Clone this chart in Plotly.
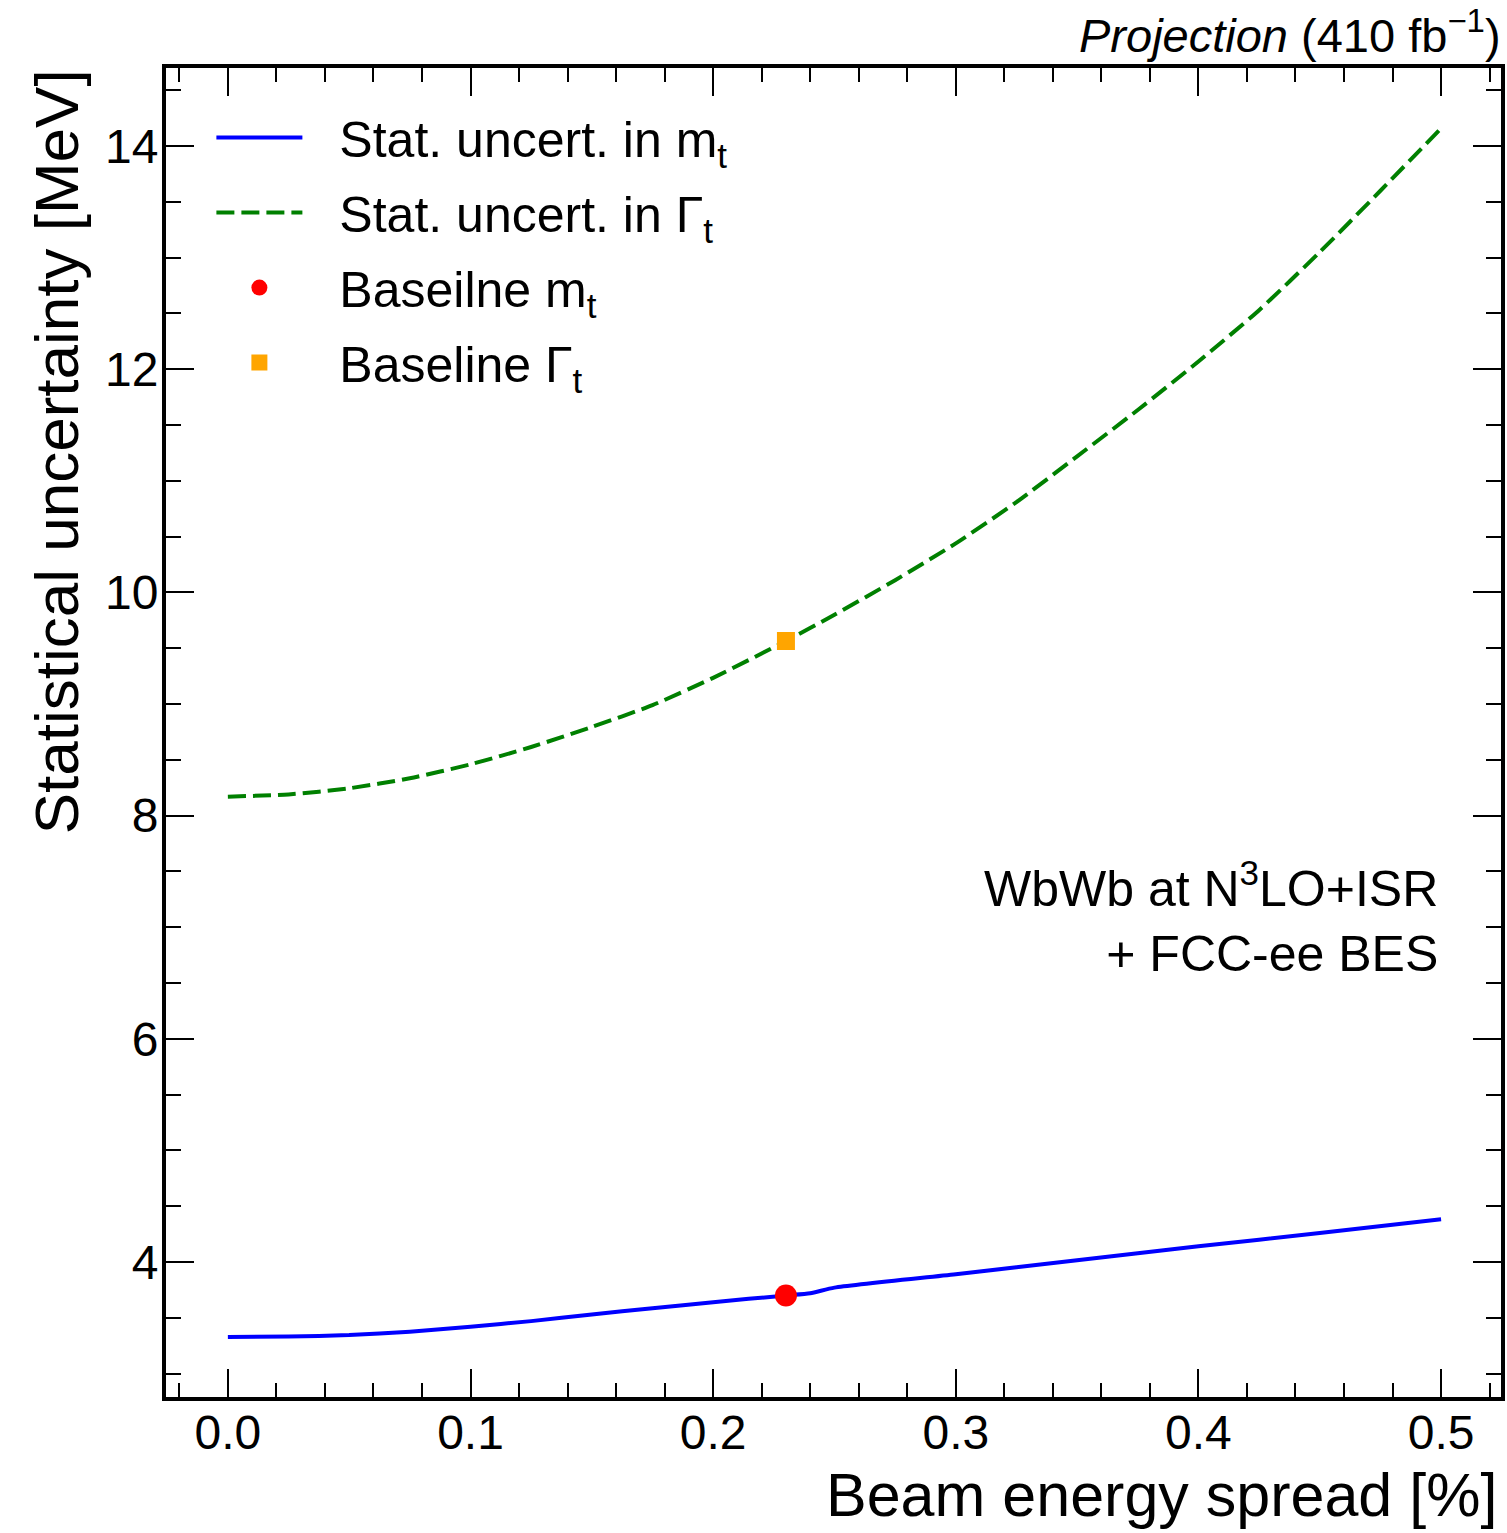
import plotly.graph_objects as go

# ---- data ----
mass_x = [0.0, 0.025, 0.05, 0.075, 0.10, 0.125, 0.15, 0.175, 0.20, 0.23, 0.24, 0.25,
          0.30, 0.35, 0.40, 0.45, 0.50]
mass_y = [3.328, 3.332, 3.345, 3.375, 3.42, 3.47, 3.53, 3.585, 3.64, 3.70, 3.72, 3.77,
          3.89, 4.015, 4.14, 4.26, 4.383]

width_x = [0.0, 0.025, 0.05, 0.075, 0.10, 0.125, 0.15, 0.175, 0.20, 0.23, 0.25, 0.275,
           0.30, 0.325, 0.35, 0.375, 0.40, 0.425, 0.45, 0.475, 0.50]
width_y = [8.17, 8.19, 8.245, 8.335, 8.46, 8.615, 8.795, 8.99, 9.235, 9.565, 9.80, 10.11,
           10.44, 10.81, 11.22, 11.635, 12.07, 12.53, 13.05, 13.60, 14.16]

baseline_x = [0.23]
baseline_mass = [3.70]
baseline_width = [9.565]

FONT = "Liberation Sans, Arial, Helvetica, sans-serif"
PAD = "\u00a0\u00a0\u200a"

fig = go.Figure()
fig.add_trace(go.Scatter(x=mass_x, y=mass_y, mode="lines",
                         line=dict(color="blue", width=4, shape="spline", smoothing=0.6),
                         legendgroup="a",
                         name=PAD + "Stat. uncert. in m<sub>t</sub>"))
fig.add_trace(go.Scatter(x=width_x, y=width_y, mode="lines",
                         line=dict(color="green", width=4, dash="18px,7px",
                                   shape="spline", smoothing=0.6),
                         legendgroup="b",
                         name=PAD + "Stat. uncert. in Γ<sub>t</sub>"))
fig.add_trace(go.Scatter(x=baseline_x, y=baseline_mass, mode="markers",
                         marker=dict(color="red", size=22, symbol="circle"),
                         legendgroup="c",
                         name=PAD + "Baseilne m<sub>t</sub>"))
fig.add_trace(go.Scatter(x=baseline_x, y=baseline_width, mode="markers",
                         marker=dict(color="orange", size=18, symbol="square"),
                         legendgroup="d",
                         name=PAD + "Baseline Γ<sub>t</sub>"))

axis_common = dict(showline=True, linecolor="black", linewidth=4, mirror="ticks",
                   ticks="inside", tickcolor="black", tickwidth=2, ticklen=28,
                   showgrid=False, zeroline=False,
                   tickfont=dict(family=FONT, size=48, color="black"))

fig.update_xaxes(range=[-0.0255, 0.5247], tick0=0, dtick=0.1, tickformat=".1f",
                 minor=dict(dtick=0.02, ticks="inside", ticklen=14, tickwidth=2,
                            tickcolor="black", showgrid=False),
                 ticklabelstandoff=-10, **axis_common)
fig.update_yaxes(range=[2.79, 14.70], tick0=0, dtick=2,
                 minor=dict(dtick=0.5, ticks="inside", ticklen=15, tickwidth=2,
                            tickcolor="black", showgrid=False),
                 ticklabelstandoff=-6, **axis_common)

fig.update_layout(
    width=1507, height=1533,
    margin=dict(l=166, r=2, t=68, b=136),
    paper_bgcolor="white", plot_bgcolor="white",
    font=dict(family=FONT, color="black"),
    showlegend=True,
    legend=dict(x=0.034, y=0.977, xanchor="left", yanchor="top",
                bgcolor="rgba(0,0,0,0)", borderwidth=0,
                font=dict(family=FONT, size=50, color="black"),
                itemwidth=86, traceorder="grouped", tracegroupgap=7),
    annotations=[
        dict(text="Beam energy spread [%]", xref="paper", yref="paper",
             x=1, y=0, xanchor="right", yanchor="middle", yshift=-98, xshift=-2,
             showarrow=False, font=dict(family=FONT, size=61, color="black")),
        dict(text="Statistical uncertainty [MeV]", xref="paper", yref="paper",
             x=-0.0822, y=0.711, xanchor="center", yanchor="middle", textangle=-90,
             showarrow=False, font=dict(family=FONT, size=62, color="black")),
        dict(text="<i>Projection</i> (410 fb<sup>−1</sup>)", xref="paper", yref="paper",
             x=1, y=1, xanchor="right", yanchor="bottom", xshift=2, yshift=4,
             showarrow=False, font=dict(family=FONT, size=47, color="black")),
        dict(text="WbWb at N<sup>3</sup>LO+ISR<br>+ FCC-ee BES", xref="paper", yref="paper",
             x=0.954, y=0.361, xanchor="right", yanchor="middle", align="right",
             showarrow=False, font=dict(family=FONT, size=50, color="black")),
    ],
)

fig.write_html("out.html")
